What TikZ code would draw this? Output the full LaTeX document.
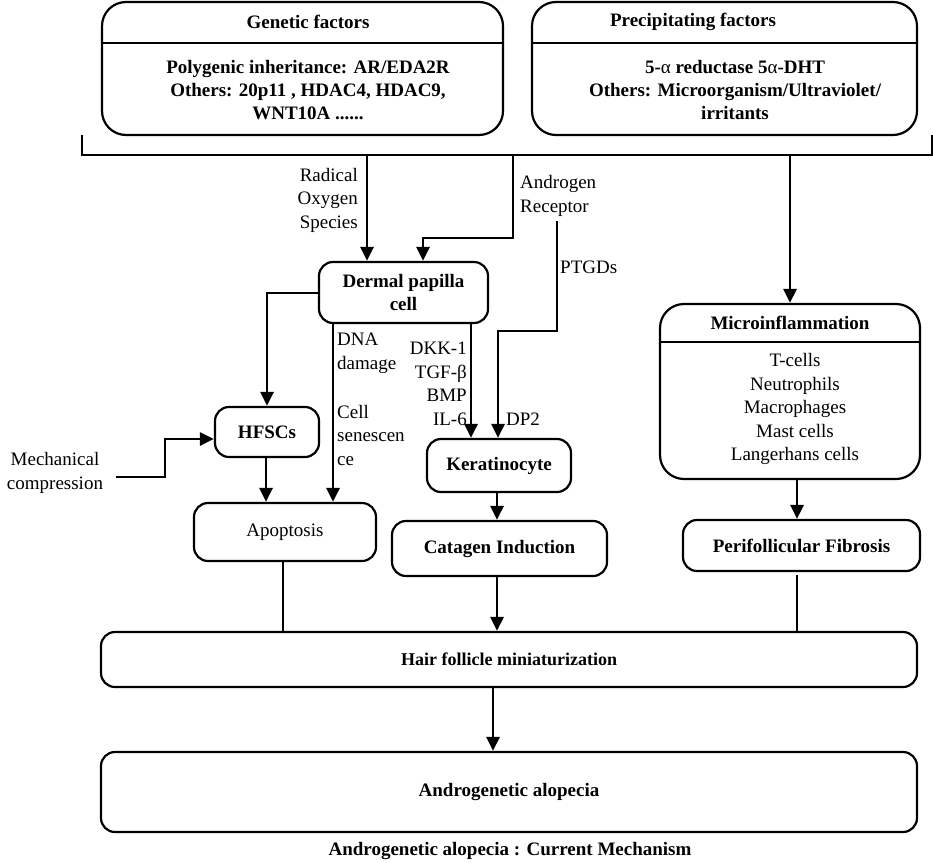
\documentclass[tikz,border=0pt]{standalone}
\usepackage{fontspec}
\setmainfont{Liberation Serif}
\usetikzlibrary{arrows.meta}
\begin{document}
\begin{tikzpicture}[x=1pt,y=-1pt,
  bx/.style={draw, line width=2.2pt, rounded corners=14pt, inner sep=0pt, align=center,
    font=\bfseries\fontsize{19}{23}\selectfont},
  bigbx/.style={bx, rounded corners=24pt},
  lbl/.style={inner sep=0pt, font=\fontsize{19}{23.5}\selectfont},
  btxt/.style={inner sep=0pt, align=center, font=\bfseries\fontsize{19}{23}\selectfont},
  arr/.style={line width=2.8pt, -{Triangle[length=14pt,width=13pt]}},
  ln/.style={line width=2.4pt},
  thin/.style={line width=1.8pt}]
\useasboundingbox (0,0) rectangle (933,862);

% top boxes
\node[bigbx, minimum width=401pt, minimum height=133pt] (gen) at (302.5,68.5) {};
\draw[line width=2.2pt] (102,43) -- (503,43);
\node[btxt] (genT) at (308,22) {Genetic factors};
\node[btxt] (genB) at (308,90) {Polygenic inheritance: AR/EDA2R\\Others: 20p11 , HDAC4, HDAC9,\\WNT10A ......};

\node[bigbx, minimum width=385pt, minimum height=133pt] (prec) at (724.5,68.5) {};
\draw[line width=2.2pt] (532,43) -- (917,43);
\node[btxt] (precT) at (693,22) {Precipitating factors};
\node[btxt] (precB) at (735,90) {5-{\mdseries α} reductase 5{\mdseries α}-DHT\\Others: Microorganism/Ultraviolet/\\irritants};

% bracket
\coordinate (bl) at (82,135);
\coordinate (br) at (932,135);
\draw[ln] (bl) -- (82,155) -- (932,155) -- (br);

% middle boxes
\node[bx, minimum width=169pt, minimum height=61pt] (dp) at (403.5,292.5) {Dermal papilla\\cell};
\node[bx, minimum width=104pt, minimum height=50pt] (hf) at (267,432) {HFSCs};
\node[bx, minimum width=182pt, minimum height=58pt, font=\fontsize{19}{23}\selectfont] (ap) at (285,532) {Apoptosis};
\node[bx, minimum width=144pt, minimum height=53pt] (kr) at (499,465.5) {Keratinocyte};
\node[bx, minimum width=215pt, minimum height=55pt] (cg) at (499.5,548.5) {Catagen Induction};
\node[bigbx, minimum width=260pt, minimum height=175pt] (mi) at (790,391.5) {};
\draw[line width=2.2pt] (660,342) -- (920,342);
\node[btxt] (miT) at (790,323) {Microinflammation};
\node[lbl, align=center] (miB) at (795,409) {T-cells\\Neutrophils\\Macrophages\\Mast cells\\Langerhans cells};
\node[bx, minimum width=237pt, minimum height=51pt] (pf) at (801.5,545.5) {Perifollicular Fibrosis};
\node[bx, minimum width=816pt, minimum height=55pt, font=\bfseries\fontsize{18}{22}\selectfont] (hm) at (509,659.5) {Hair follicle miniaturization};
\node[bx, minimum width=816pt, minimum height=80pt] (aa) at (509,792) {Androgenetic alopecia};
\node[btxt] (cap) at (510,851) {Androgenetic alopecia : Current Mechanism};

% labels
\node[lbl, align=right, anchor=east] (ros) at (358,200) {Radical\\Oxygen\\Species};
\node[lbl, align=left, anchor=west] (arl) at (520,196) {Androgen\\Receptor};
\node[lbl, anchor=west] (ptg) at (560,267) {PTGDs};
\node[lbl, align=left, anchor=west] (dna) at (337,353.5) {DNA\\damage};
\node[lbl, align=left, anchor=west] (cs) at (337,435) {Cell\\senescen\\ce};
\node[lbl, align=right, anchor=east] (dkk) at (467,384) {DKK-1\\TGF-β\\BMP\\IL-6};
\node[lbl, anchor=west] (dp2) at (506,419) {DP2};
\node[lbl, align=center] (mc) at (55,473) {Mechanical\\compression};

% connectors
\draw[arr] (367,155) -- (367,0 |- dp.north);
\draw[arr] (513,155) -- (513,238) -- (423,238) -- (423,0 |- dp.north);
\draw[arr] (790,155) -- (mi.north);
\coordinate (ptgs) at (557,221);
\draw[arr] (ptgs) -- (557,331) -- (498,331) -- (498,0 |- kr.north);
\draw[arr] (471,0 |- dp.south) -- (471,0 |- kr.north);
\draw[arr] (333,0 |- dp.south) -- (333,0 |- ap.north);
\draw[arr] (dp.west |- 0,293) -- (267,293) -- (hf.north);
\coordinate (mcs) at (116,477);
\draw[arr] (mcs) -- (165,477) -- (165,439) -- (hf.west |- 0,439);
\draw[arr] (266,0 |- hf.south) -- (266,0 |- ap.north);
\draw[thin] (283,0 |- ap.south) -- (283,0 |- hm.north);
\draw[arr] (497,0 |- kr.south) -- (497,0 |- cg.north);
\draw[arr] (497,0 |- cg.south) -- (497,0 |- hm.north);
\draw[arr] (797,0 |- mi.south) -- (797,0 |- pf.north);
\draw[thin] (797,575) -- (797,0 |- hm.north);
\draw[arr] (493,0 |- hm.south) -- (493,0 |- aa.north);
\end{tikzpicture}
\end{document}
